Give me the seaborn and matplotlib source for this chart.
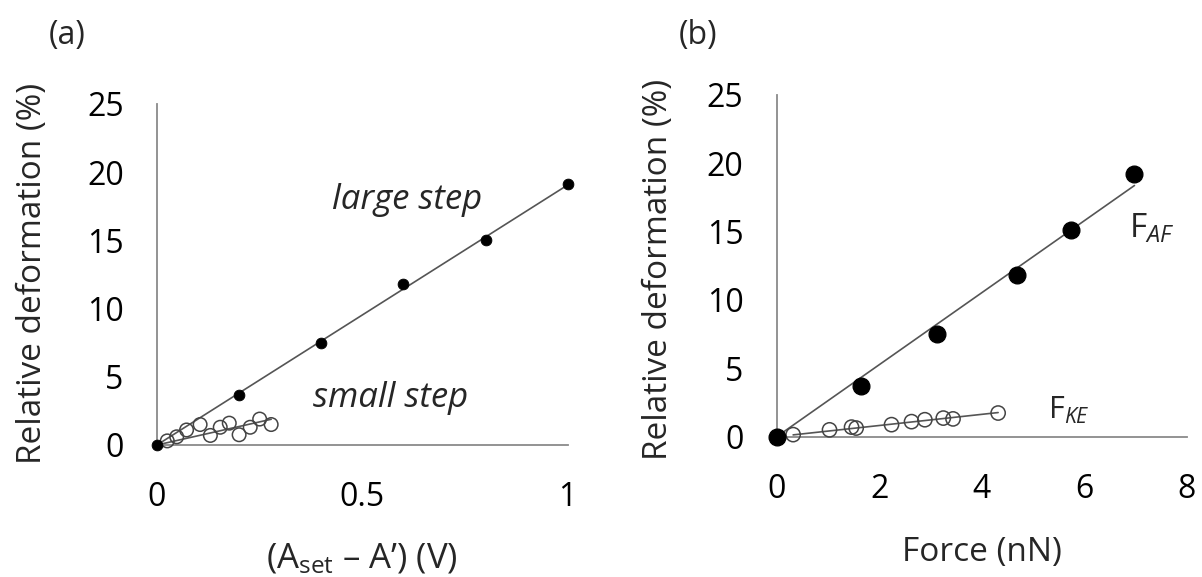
import numpy as np
import pandas as pd
import matplotlib
matplotlib.use("Agg")
import matplotlib.pyplot as plt
import seaborn as sns

# ---- data ----
large_x = [0.0, 0.2, 0.4, 0.6, 0.8, 1.0]
large_y = [0.0, 3.7, 7.45, 11.8, 15.05, 19.1]
small_x = [0.025, 0.048, 0.072, 0.105, 0.13, 0.154, 0.176, 0.2, 0.227, 0.25, 0.278]
small_y = [0.3, 0.6, 1.1, 1.5, 0.7, 1.3, 1.6, 0.75, 1.3, 1.9, 1.5]

af_x = [0.0, 1.64, 3.12, 4.68, 5.74, 6.98]
af_y = [0.0, 3.7, 7.5, 11.8, 15.1, 19.2]
ke_x = [0.32, 1.03, 1.46, 1.55, 2.24, 2.63, 2.89, 3.25, 3.44, 4.32]
ke_y = [0.15, 0.5, 0.7, 0.63, 0.88, 1.1, 1.24, 1.36, 1.3, 1.73]

left_xticks = [0, 0.5, 1]
left_xticklabels = ["0", "0.5", "1"]
right_xticks = [0, 2, 4, 6, 8]
yticks = [0, 5, 10, 15, 20, 25]

sns.set_theme(style="white")
plt.rcParams["font.family"] = ["Open Sans", "DejaVu Sans"]
plt.rcParams["mathtext.fontset"] = "custom"
plt.rcParams["mathtext.rm"] = "Open Sans"
plt.rcParams["mathtext.it"] = "Open Sans:italic"

def origin_fit(x, y):
    x = np.asarray(x); y = np.asarray(y)
    return float((x * y).sum() / (x * x).sum())

SPINE = "#8a8a8a"
LINE = "#555555"
TICK_FS = 23
LABEL_FS = 24

fig = plt.figure(figsize=(12.02, 5.77), dpi=100)
axL = fig.add_axes([0.1306, 0.2288, 0.3417, 0.5910])
axR = fig.add_axes([0.6462, 0.2432, 0.3411, 0.5922])

def style(ax):
    for s in ["top", "right"]:
        ax.spines[s].set_visible(False)
    for s in ["left", "bottom"]:
        ax.spines[s].set_color(SPINE)
        ax.spines[s].set_linewidth(1.3)
    ax.tick_params(axis="both", direction="out", length=9, width=1.1,
                   color=SPINE, labelsize=TICK_FS, labelcolor="black")
    ax.tick_params(axis="y", pad=15)
    ax.tick_params(axis="x", pad=17)
    ax.set_ylim(0, 25)
    ax.set_yticks(yticks)
    ax.set_yticklabels([str(t) for t in yticks])
    ax.grid(False)

# ---- left panel ----
kL = origin_fit(large_x, large_y)
kS = origin_fit(small_x, small_y)
fitL = pd.DataFrame({"x": [0, max(large_x)], "y": [0, kL * max(large_x)]})
fitS = pd.DataFrame({"x": [0, max(small_x)], "y": [0, kS * max(small_x)]})
sns.lineplot(data=fitL, x="x", y="y", ax=axL, color=LINE, lw=1.2)
sns.lineplot(data=fitS, x="x", y="y", ax=axL, color=LINE, lw=1.2)
sns.scatterplot(x=small_x, y=small_y, ax=axL, s=95, facecolor="none",
                edgecolor="#444444", linewidth=1.1, zorder=3, clip_on=False)
sns.scatterplot(x=large_x, y=large_y, ax=axL, s=60, color="black",
                edgecolor="black", zorder=4, clip_on=False)
style(axL)
axL.set_xlim(0, 1)
axL.set_xticks(left_xticks)
axL.set_xticklabels(left_xticklabels)
axL.set_xlabel("(A$_{\\mathrm{set}}$ – A’) (V)", fontsize=25)
axL.set_ylabel("Relative deformation (%)", fontsize=LABEL_FS)
axL.xaxis.label.set_va("center")
axL.yaxis.label.set_va("center")
axL.xaxis.set_label_coords(0.50, -0.335)
axL.yaxis.set_label_coords(-0.302, 0.504)
axL.text(0.609, 17.96, "large step", style="italic", fontsize=25,
         ha="center", va="center")
axL.text(0.568, 3.45, "small step", style="italic", fontsize=25,
         ha="center", va="center")

# ---- right panel ----
kA = origin_fit(af_x, af_y)
kK = origin_fit(ke_x, ke_y)
fitA = pd.DataFrame({"x": [0, max(af_x)], "y": [0, kA * max(af_x)]})
fitK = pd.DataFrame({"x": [min(ke_x), max(ke_x)],
                     "y": [kK * min(ke_x), kK * max(ke_x)]})
sns.lineplot(data=fitA, x="x", y="y", ax=axR, color=LINE, lw=1.2)
sns.lineplot(data=fitK, x="x", y="y", ax=axR, color=LINE, lw=1.2)
sns.scatterplot(x=ke_x, y=ke_y, ax=axR, s=105, facecolor="none",
                edgecolor="#444444", linewidth=1.1, zorder=3, clip_on=False)
sns.scatterplot(x=af_x, y=af_y, ax=axR, s=145, color="black",
                edgecolor="black", zorder=4, clip_on=False)
style(axR)
axR.set_xlim(0, 8)
axR.set_xticks(right_xticks)
axR.set_xticklabels([str(t) for t in right_xticks])
axR.set_xlabel("Force (nN)", fontsize=LABEL_FS)
axR.set_ylabel("Relative deformation (%)", fontsize=LABEL_FS)
axR.xaxis.label.set_va("center")
axR.yaxis.label.set_va("center")
axR.xaxis.set_label_coords(0.50, -0.34)
axR.yaxis.set_label_coords(-0.289, 0.488)
axR.text(6.88, 15.2, "F$_{\\mathit{AF}}$", fontsize=24, ha="left", va="center")
axR.text(5.3, 1.95, "F$_{\\mathit{KE}}$", fontsize=22, ha="left", va="center")

fig.text(0.0557, 0.939, "(a)", fontsize=23, ha="center", va="center")
fig.text(0.5807, 0.939, "(b)", fontsize=23, ha="center", va="center")

fig.savefig("out.png", dpi=100)
